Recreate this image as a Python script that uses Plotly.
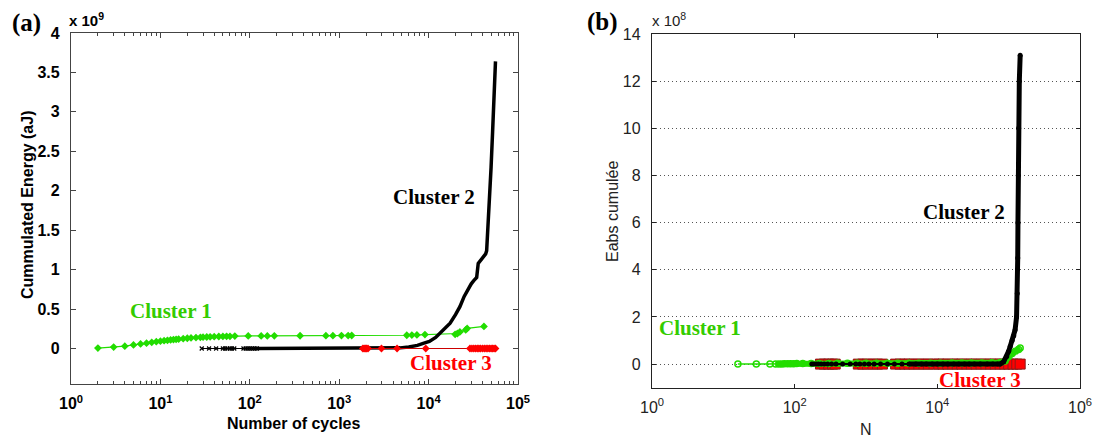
import plotly.graph_objects as go

W, H = 1096, 438

# ---------------- Panel (a) data (energy in units of 1e9 aJ) ----------------
a_c1_cycles = [2, 3, 4, 5, 6, 7, 8, 9, 10, 11, 12, 13, 14, 15, 16, 18, 20, 22, 25, 28, 30, 33, 36,
               40, 45, 50, 55, 60, 68, 96, 134, 157, 188, 365, 710, 850, 1060, 1260, 1380,
               5700, 6500, 7400, 9100, 19800, 21000, 22400, 26000, 27000, 41600]
a_c1_energy = [0.005, 0.018, 0.03, 0.045, 0.058, 0.068, 0.078, 0.086, 0.093, 0.099, 0.104, 0.109,
               0.113, 0.117, 0.120, 0.125, 0.130, 0.134, 0.138, 0.142, 0.144, 0.146, 0.148,
               0.150, 0.152, 0.153, 0.154, 0.155, 0.157, 0.159, 0.160, 0.160, 0.161, 0.162,
               0.163, 0.163, 0.164, 0.164, 0.165, 0.168, 0.170, 0.172, 0.176, 0.18, 0.19,
               0.21, 0.235, 0.255, 0.28]

a_c2_sparse_cycles = [29, 35, 42, 50, 53, 56, 60, 63, 67, 85, 90, 95, 100, 105, 110, 115, 120]
a_c2_sparse_energy = [0, 0, 0, 0, 0, 0, 0, 0, 0, 0, 0, 0, 0, 0, 0, 0, 0]
a_c2_cycles = [120, 500, 1000, 2000, 3000, 4800, 6000, 7500, 8700, 10200, 12000, 13400, 15200,
               17400, 20000, 22400, 25000, 27600, 30000, 32000, 34500, 35900, 38000, 41000,
               43500, 44600, 46000, 48600, 50000, 52000, 54000, 56000]
a_c2_energy = [0, 0, 0, 0.002, 0.004, 0.008, 0.02, 0.04, 0.066, 0.09, 0.14, 0.19, 0.25, 0.32,
               0.43, 0.53, 0.66, 0.76, 0.82, 0.86, 0.9, 1.08, 1.12, 1.17, 1.2, 1.24, 1.5, 2.0,
               2.3, 2.75, 3.2, 3.64]

a_c3_cycles = [1840, 1900, 1960, 2020, 2100, 2970, 4440, 9300, 29000, 30500, 32000, 33500,
               35000, 36500, 38000, 40000, 42000, 44000, 46000, 48000, 50000, 52000, 54000, 56000]
a_c3_energy = [0] * len(a_c3_cycles)

# ---------------- Panel (b) data (Eabs in units of 1e8) ----------------
b_c1_n = [16, 29, 45, 54, 60, 66, 72, 80, 88, 97, 107, 130, 170, 220, 300, 400, 550, 750, 1000,
          1400, 2000, 2800, 4000, 5500, 8000, 11000, 16000, 22000, 30000, 42000, 58000, 76000,
          89000, 100000, 112000, 124000, 138000, 145000]
b_c1_e = [0, 0, 0, 0.01, 0.01, 0.01, 0.02, 0.02, 0.02, 0.02, 0.03, 0.03, 0.03, 0.03, 0.03, 0.04,
          0.04, 0.04, 0.04, 0.04, 0.04, 0.04, 0.04, 0.04, 0.04, 0.04, 0.05, 0.05, 0.05, 0.05,
          0.06, 0.07, 0.13, 0.32, 0.45, 0.55, 0.62, 0.68]

b_c2_n = [174, 185, 200, 215, 235, 260, 290, 330, 380, 470, 600, 720, 820, 950, 1100, 1300, 1600,
          2000, 2500, 3200, 4000, 5000, 6000, 7000, 8500, 10000, 12000, 14000, 17000, 20000,
          24000, 28000, 33000, 40000, 50000, 60000, 70000, 76000, 85000, 94000, 100000, 105000,
          112000, 118000, 123000, 129000, 132000, 134000, 135000, 136000, 138000, 141000, 145000]
b_c2_e = [0] * 38 + [0.1, 0.32, 0.55, 0.75, 1.0, 1.2, 1.45, 2.0, 3.0, 4.5, 6.0, 8.0, 10.0, 12.0, 13.1]

b_c3_n = [230, 260, 300, 340, 370, 780, 900, 1050, 1250, 1450, 1700, 2600, 3000, 3500, 4000,
          4700, 5500, 6500, 7500, 9000, 10500, 12000, 14000, 16500, 19000, 22000, 26000, 30000,
          35000, 41000, 48000, 56000, 65000, 76000, 88000, 100000, 115000, 130000, 145000]
b_c3_e = [0] * len(b_c3_n)

a_xticks = [1, 10, 100, 1000, 10000, 100000]
a_xtext = ["10<sup>0</sup>", "10<sup>1</sup>", "10<sup>2</sup>", "10<sup>3</sup>",
           "10<sup>4</sup>", "10<sup>5</sup>"]
b_xticks = [1, 100, 10000, 1000000]
b_xtext = ["10<sup>0</sup>", "10<sup>2</sup>", "10<sup>4</sup>", "10<sup>6</sup>"]

GREEN = "#22dd00"
GREEN_TXT = "#33cc00"
RED = "#ff0000"

SANS = "Liberation Sans, Arial, sans-serif"
SERIF = "Liberation Serif, Times New Roman, serif"

fig = go.Figure()

# Panel (a)
fig.add_trace(go.Scatter(x=a_c1_cycles, y=a_c1_energy, mode="lines+markers",
                         line=dict(color=GREEN, width=1.2),
                         marker=dict(symbol="diamond", size=6, color=GREEN),
                         xaxis="x", yaxis="y", showlegend=False))
fig.add_trace(go.Scatter(x=a_c2_sparse_cycles, y=a_c2_sparse_energy, mode="lines+markers",
                         line=dict(color="black", width=1),
                         marker=dict(symbol="x-thin", size=4, line=dict(color="black", width=1.2)),
                         xaxis="x", yaxis="y", showlegend=False))
fig.add_trace(go.Scatter(x=a_c2_cycles, y=a_c2_energy, mode="lines",
                         line=dict(color="black", width=3.5),
                         xaxis="x", yaxis="y", showlegend=False))
fig.add_trace(go.Scatter(x=a_c3_cycles, y=a_c3_energy, mode="lines+markers",
                         line=dict(color="#cc0000", width=1),
                         marker=dict(symbol="diamond", size=6, color=RED),
                         xaxis="x", yaxis="y", showlegend=False))

# Panel (b)
fig.add_trace(go.Scatter(x=b_c3_n, y=b_c3_e, mode="lines+markers",
                         line=dict(color=RED, width=2),
                         marker=dict(symbol="square", size=10, color=RED,
                                     line=dict(color="#8b1a1a", width=1)),
                         xaxis="x2", yaxis="y2", showlegend=False))
fig.add_trace(go.Scatter(x=b_c1_n, y=b_c1_e, mode="lines+markers",
                         line=dict(color=GREEN, width=1.5),
                         marker=dict(symbol="circle-open", size=6, color=GREEN,
                                     line=dict(width=1.5)),
                         xaxis="x2", yaxis="y2", showlegend=False))
fig.add_trace(go.Scatter(x=b_c1_n[3:], y=b_c1_e[3:], mode="lines",
                         line=dict(color=GREEN, width=6),
                         xaxis="x2", yaxis="y2", showlegend=False))
fig.add_trace(go.Scatter(x=b_c2_n, y=b_c2_e, mode="lines+markers",
                         line=dict(color="black", width=2),
                         marker=dict(symbol="circle", size=5, color="black"),
                         xaxis="x2", yaxis="y2", showlegend=False))
fig.add_trace(go.Scatter(x=b_c2_n[20:], y=b_c2_e[20:], mode="lines",
                         line=dict(color="black", width=5),
                         xaxis="x2", yaxis="y2", showlegend=False))

minor_a = [m * 10 ** d for d in range(0, 5) for m in range(2, 10)]

fig.update_layout(
    width=W, height=H,
    margin=dict(l=0, r=0, t=0, b=0, autoexpand=False),
    paper_bgcolor="white", plot_bgcolor="white",
    xaxis=dict(type="log", domain=[71 / W, 518 / W], range=[0, 5], anchor="y",
               automargin=False,
               tickmode="array", tickvals=a_xticks, ticktext=a_xtext,
               ticks="inside", ticklen=5, tickcolor="#444", mirror="ticks",
               showline=True, linecolor="#444", linewidth=1.3,
               showgrid=False, zeroline=False, ticklabelstandoff=5,
               minor=dict(ticks="inside", ticklen=3, tickcolor="#444",
                          tickmode="array", tickvals=minor_a, showgrid=False),
               tickfont=dict(family=SANS, size=16, color="black", weight="bold")),
    yaxis=dict(domain=[54 / H, 405 / H], range=[-0.45, 4], anchor="x",
               automargin=False,
               tickmode="linear", tick0=0, dtick=0.5,
               ticks="inside", ticklen=5, tickcolor="#444", mirror="ticks",
               showline=True, linecolor="#444", linewidth=1.3,
               showgrid=False, zeroline=False, ticklabelstandoff=7,
               tickfont=dict(family=SANS, size=16, color="black", weight="bold")),
    xaxis2=dict(type="log", domain=[652 / W, 1080 / W], range=[0, 6], anchor="y2",
                automargin=False,
                tickmode="array", tickvals=b_xticks, ticktext=b_xtext,
                ticks="inside", ticklen=4, tickcolor="#222", mirror="ticks",
                showline=True, linecolor="#222", linewidth=1.3,
                showgrid=False, zeroline=False, ticklabelstandoff=5,
                tickfont=dict(family=SANS, size=16, color="#222")),
    yaxis2=dict(domain=[50.3 / H, 404 / H], range=[-1, 14], anchor="x2",
                automargin=False,
                tickmode="linear", tick0=0, dtick=2,
                ticks="inside", ticklen=4, tickcolor="#222", mirror="ticks",
                showline=True, linecolor="#222", linewidth=1.3,
                showgrid=True, gridcolor="#555", griddash="1px,3px", gridwidth=1,
                zeroline=False, ticklabelstandoff=7,
                tickfont=dict(family=SANS, size=16, color="#222")),
)


def px(x, y):
    return x / W, 1 - y / H


annots = [
    # panel labels
    (26, 23, "(a)", dict(family=SERIF, size=25, color="black", weight="bold"), 0),
    (602, 22, "(b)", dict(family=SERIF, size=25, color="black", weight="bold"), 0),
    # exponents
    (86, 19, "x 10<sup>9</sup>", dict(family=SANS, size=15, color="black", weight="bold"), 0),
    (669, 19, "x 10<sup>8</sup>", dict(family=SANS, size=15, color="#222"), 0),
    # axis titles
    (293, 423, "Number of cycles", dict(family=SANS, size=16, color="black", weight="bold"), 0),
    (28, 205, "Cummulated Energy (aJ)", dict(family=SANS, size=16, color="black", weight="bold"), -90),
    (866, 429, "N", dict(family=SANS, size=16, color="#222"), 0),
    (612, 212, "Eabs cumulée", dict(family=SANS, size=16, color="#222"), -90),
    # cluster labels
    (171, 311, "Cluster 1", dict(family=SERIF, size=21, color=GREEN_TXT, weight="bold"), 0),
    (434, 197, "Cluster 2", dict(family=SERIF, size=21, color="black", weight="bold"), 0),
    (451, 363, "Cluster 3", dict(family=SERIF, size=21, color=RED, weight="bold"), 0),
    (700, 328, "Cluster 1", dict(family=SERIF, size=21, color=GREEN_TXT, weight="bold"), 0),
    (964, 212, "Cluster 2", dict(family=SERIF, size=21, color="black", weight="bold"), 0),
    (980, 380, "Cluster 3", dict(family=SERIF, size=21, color=RED, weight="bold"), 0),
]
for x, y, t, f, ang in annots:
    ax, ay = px(x, y)
    fig.add_annotation(x=ax, y=ay, xref="paper", yref="paper", text=t, font=f,
                       showarrow=False, xanchor="center", yanchor="middle", textangle=ang)

fig.write_html("out.html", config={"displayModeBar": False},
               post_script="document.body.style.margin='0';document.body.style.overflow='hidden';")
